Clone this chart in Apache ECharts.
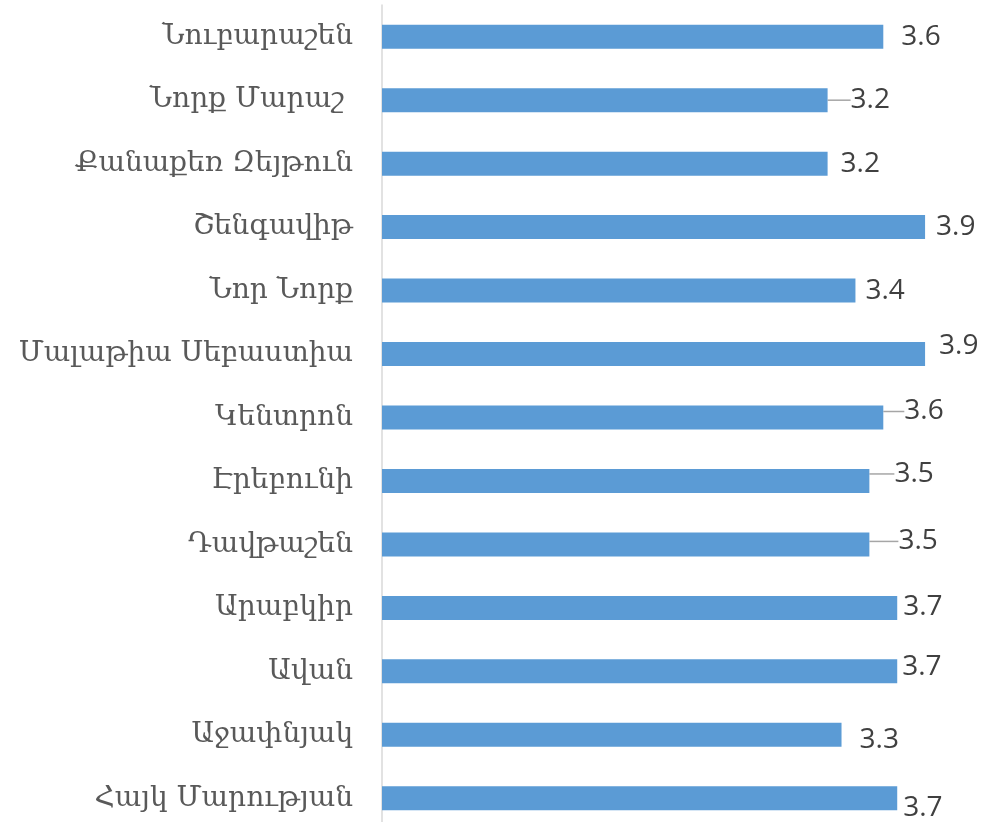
<!DOCTYPE html>
<html>
<head>
<meta charset="utf-8">
<script src="https://cdn.jsdelivr.net/npm/echarts@6/dist/echarts.min.js"></script>
<style>
  html, body { margin: 0; padding: 0; background: #fff; }
  #main { width: 991px; height: 822px; }
</style>
</head>
<body>
<div id="main"></div>
<script>
  // districts, top to bottom
  var districts = ['Նուբարաշեն', 'Նորք Մարաշ ', 'Քանաքեռ Զեյթուն', 'Շենգավիթ', 'Նոր Նորք',
    'Մալաթիա Սեբաստիա', 'Կենտրոն', 'Էրեբունի', 'Դավթաշեն', 'Արաբկիր', 'Ավան', 'Աջափնյակ', 'Հայկ Մարության'];
  var scores = [3.6, 3.2, 3.2, 3.9, 3.4, 3.9, 3.6, 3.5, 3.5, 3.7, 3.7, 3.3, 3.7];

  // data labels were dragged around by hand in the original
  var labelShift = [[13, 0], [18, 0], [8, 0], [6, 0], [5, 0], [9, -8], [16, -6],
    [20, -7], [24, -3], [1, -1], [0, -4], [13, 5], [1, 10]];
  var withLeader = [false, true, false, false, false, false, true, true, true, false, false, false, false];

  var myChart = echarts.init(document.getElementById('main'));

  myChart.setOption({
    animation: false,
    grid: { left: 382, right: 52, top: 5, height: 825, containLabel: false, outerBoundsMode: 'none' },
    xAxis: {
      type: 'value',
      min: 0,
      max: 4,
      show: false
    },
    yAxis: {
      type: 'category',
      inverse: true,
      data: districts,
      axisLine: { show: true, lineStyle: { color: '#d9d9d9', width: 1.5 } },
      axisTick: { show: false },
      axisLabel: {
        margin: 29,
        color: '#595959',
        fontFamily: 'DejaVu Serif',
        fontSize: 28
      }
    },
    series: [{
      type: 'bar',
      barWidth: 24,
      itemStyle: { color: '#5b9bd5' },
      data: scores.map(function (v, i) {
        return { value: v, labelLine: { show: withLeader[i] } };
      }),
      label: {
        show: true,
        position: 'right',
        distance: 5,
        color: '#404040',
        fontFamily: 'Open Sans',
        fontSize: 28,
        formatter: function (p) { return p.value.toFixed(1); }
      },
      labelLine: { show: true, length2: 0, lineStyle: { color: '#a6a6a6', width: 1.5 } },
      labelLayout: function (p) {
        var s = labelShift[p.dataIndex];
        return { dx: s[0], dy: s[1] };
      }
    }]
  });
</script>
</body>
</html>
